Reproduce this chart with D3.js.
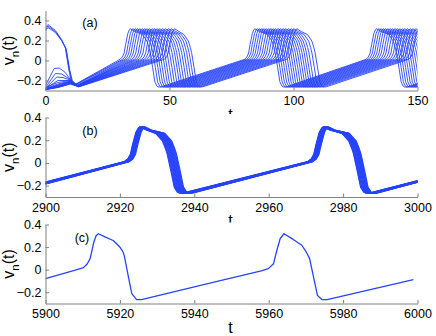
<!DOCTYPE html>
<html>
<head>
<meta charset="utf-8">
<script src="https://cdn.jsdelivr.net/npm/d3@7"></script>
<style>
  body { margin: 0; background: #fff; }
  text { font-family: Arial, "Liberation Sans", Helvetica, sans-serif; }
</style>
</head>
<body>
<div id="chart"></div>
<script>
// spike shape: upstroke relative to the peak time,
// fall relative to the time the downstroke crosses v = 0
var UP_SHAPE = [[-4.1, 0.012], [-3.2, 0.035], [-2.5, 0.075], [-1.9, 0.16], [-1.0, 0.27], [-0.4, 0.305], [0, 0.318]];
var DOWN_SHAPE = [[-3.7, 0.26], [-1.9, 0.195], [-1.1, 0.13], [-0.6, 0.08], [0.4, -0.07], [1.3, -0.213], [2.1, -0.255], [2.6, -0.265], [3.9, -0.263]];

// panel (a): start transients, then peak / downstroke times of each cell
var A_START = [
  [[0, 0.33], [1, 0.36], [4, 0.3], [6.5, 0.21], [8, 0.13], [9.3, -0.08], [10.3, -0.2], [11.5, -0.245]],
  [[0, 0.31], [1, 0.345], [4, 0.29], [6.5, 0.2], [8.2, 0.12], [9.6, -0.09], [10.6, -0.2], [11.8, -0.245]],
  [[0, 0.3], [1, 0.33], [4, 0.28], [6.8, 0.19], [8.4, 0.11], [9.8, -0.1], [10.8, -0.2], [12.0, -0.245]],
  [[0, -0.25], [3.5, -0.08], [5.5, -0.075], [8, -0.12], [10, -0.19], [12.5, -0.25]],
  [[0, -0.27], [4, -0.13], [6.5, -0.135], [10, -0.19], [12.8, -0.25]],
  [[0, -0.28], [4.5, -0.165], [7, -0.17], [10, -0.195], [13, -0.25]],
  [[0, -0.28], [5, -0.2], [10, -0.2], [13, -0.25]],
  [[0, -0.27], [5, -0.22], [10, -0.2], [12.8, -0.25]],
  [[0, -0.28], [5, -0.235], [10, -0.205], [13, -0.252]],
  [[0, -0.285], [5, -0.245], [10, -0.21], [13, -0.255]],
  [[0, -0.285], [5, -0.25], [10, -0.212], [13, -0.255]],
  [[0, -0.29], [5, -0.25], [10, -0.215], [13, -0.256]],
  [[0, -0.285], [5, -0.255], [10, -0.218], [13, -0.257]],
  [[0, -0.29], [5, -0.26], [10, -0.22], [13.2, -0.258]],
  [[0, -0.29], [5, -0.262], [10, -0.224], [13.2, -0.26]],
  [[0, -0.29], [5, -0.265], [10, -0.228], [13.4, -0.26]],
  [[0, -0.29], [5, -0.268], [10, -0.232], [13.4, -0.262]],
  [[0, -0.29], [5, -0.27], [10, -0.236], [13.5, -0.263]]
];
var A_PEAK1 = [34.2, 35.2, 36.1, 37.0, 37.9, 38.9, 39.9, 40.8, 41.8, 42.9, 43.9, 44.9, 46.0, 47.1, 48.3, 49.5, 50.7, 52.0];
var A_DOWN1 = [42.8, 43.9, 44.9, 45.8, 46.7, 47.7, 48.6, 49.6, 50.6, 51.6, 52.6, 53.5, 54.5, 55.5, 56.5, 57.5, 58.5, 59.5];
var A_PEAK2 = [84.4, 85.3, 86.2, 87.1, 88.0, 88.9, 89.9, 90.8, 91.7, 92.7, 93.7, 94.7, 95.7, 96.8, 97.9, 99.0, 100.1, 101.3];
var A_DOWN2 = [93.2, 94.1, 95.0, 95.9, 96.8, 97.7, 98.6, 99.5, 100.4, 101.3, 102.2, 103.1, 104.0, 104.9, 105.8, 106.8, 108.0, 109.3];
var A_PEAK3 = [133.4, 134.3, 135.2, 136.1, 137.0, 137.9, 138.9, 139.8, 140.8, 141.8, 142.8, 143.8, 144.8, 145.9, 147.0, 148.1, 149.3, 150.5];
var A_DOWN3 = [142.1, 143.0, 143.9, 144.8, 145.7, 146.6, 147.5, 148.4, 149.3, 150.2, 151.1, 152.0, 152.9, 153.8, 154.7, 155.7, 156.8, 158.0];
var A_PEAK4 = [182.4, 183.2, 184.0, 184.9, 185.7, 186.6, 187.5, 188.3, 189.2, 190.1, 191.0, 191.9, 192.8, 193.7, 194.6, 195.6, 196.7, 197.8];

// panel (b): nearly synchronised cells
var B_DOWN0 = [2885.0, 2885.2, 2885.4, 2885.6, 2885.7, 2885.9, 2886.1, 2886.3, 2886.5, 2886.6, 2886.8, 2887.0, 2887.2, 2887.4];
var B_PEAK1 = [2925.3, 2925.4, 2925.5, 2925.7, 2925.8, 2925.8, 2925.9, 2926.0, 2926.1, 2926.2, 2926.3, 2926.4, 2926.5, 2926.7];
var B_DOWN1 = [2933.3, 2933.5, 2933.7, 2933.9, 2934.1, 2934.3, 2934.5, 2934.6, 2934.8, 2935.0, 2935.2, 2935.4, 2935.6, 2935.8];
var B_PEAK2 = [2974.6, 2974.7, 2974.8, 2975.0, 2975.1, 2975.2, 2975.3, 2975.4, 2975.5, 2975.6, 2975.7, 2975.8, 2975.9, 2976.0];
var B_DOWN2 = [2983.4, 2983.5, 2983.7, 2983.9, 2984.0, 2984.2, 2984.4, 2984.5, 2984.7, 2984.8, 2985.0, 2985.1, 2985.2, 2985.4];
var B_PEAK3 = [3024.0, 3024.1, 3024.2, 3024.3, 3024.4, 3024.5, 3024.6, 3024.7, 3024.8, 3024.9, 3025.0, 3025.1, 3025.2, 3025.3];

// panel (c): one cell
var C_T = [5900, 5908, 5910.2, 5911.2, 5912, 5913, 5913.6, 5914.2, 5916, 5918.2, 5920, 5920.8, 5921.2, 5922.3, 5923.2, 5924.5, 5925.8,
           5946.7, 5958, 5959.9, 5961.3, 5962.2, 5963.1, 5964.1, 5966.5, 5968.9, 5970.2, 5971, 5973.1, 5974.3, 5975.7, 5998.9];
var C_V = [-0.08, -0.005, 0.018, 0.05, 0.098, 0.245, 0.3, 0.318, 0.29, 0.258, 0.2, 0.16, 0.12, -0.066, -0.213, -0.265, -0.265,
           -0.10, -0.01, 0.009, 0.053, 0.172, 0.276, 0.318, 0.27, 0.216, 0.15, 0.098, -0.228, -0.265, -0.265, -0.089];

var A_XTICKS = [0, 50, 100, 150];
var B_XTICKS = [2900, 2920, 2940, 2960, 2980, 3000];
var C_XTICKS = [5900, 5920, 5940, 5960, 5980, 6000];
var Y_TICKS = [-0.2, 0, 0.2, 0.4];

var blue = "#2643ff", grey = "#808080";
var W = 436, H = 336;
var left = 45.5, right = 417.5;

var svg = d3.select("#chart").append("svg")
    .attr("width", W)
    .attr("height", H);
var defs = svg.append("defs");

function upPts(p) {
  return UP_SHAPE.map(function(s) { return [p + s[0], s[1]]; });
}
function downPts(p, d) {
  var out = [];
  if (p != null && d - 3.7 > p + 2.2) out.push([p + 1.8, 0.29]);
  return out.concat(DOWN_SHAPE.map(function(s) { return [d + s[0], s[1]]; }));
}
function buildCurve(start, events) {
  var pts = start.slice();
  events.forEach(function(e) {
    pts = pts.concat(upPts(e[0]));
    if (e[1] != null) pts = pts.concat(downPts(e[0], e[1]));
  });
  return pts;
}

function panel(opt) {
  var x = d3.scaleLinear().domain(opt.xdom).range([left, right]);
  var y = d3.scaleLinear().domain(opt.ydom).range([opt.bottom, opt.top]);
  var id = "clip-" + opt.key;

  defs.append("clipPath").attr("id", id).append("rect")
      .attr("x", left).attr("y", opt.top)
      .attr("width", right - left).attr("height", opt.bottom - opt.top);

  var line = d3.line()
      .x(function(d) { return x(d[0]); })
      .y(function(d) { return y(d[1]); });

  var g = svg.append("g");

  g.append("g")
      .attr("clip-path", "url(#" + id + ")")
      .selectAll("path").data(opt.curves).enter().append("path")
      .attr("d", line)
      .attr("fill", "none")
      .attr("stroke", blue)
      .attr("stroke-width", opt.lw)
      .attr("stroke-linejoin", "round");

  var xAxis = d3.axisBottom(x).tickValues(opt.xticks).tickSizeInner(-3.5).tickSizeOuter(0).tickPadding(6)
      .tickFormat(d3.format("d"));
  var yAxis = d3.axisLeft(y).tickValues(Y_TICKS).tickSizeInner(-3.5).tickSizeOuter(0).tickPadding(4)
      .tickFormat(function(d) { return d === 0 ? "0" : d3.format(".1f")(d); });

  var gx = g.append("g").attr("transform", "translate(0," + opt.bottom + ")").call(xAxis);
  var gy = g.append("g").attr("transform", "translate(" + left + ",0)").call(yAxis);
  [gx, gy].forEach(function(a) {
    a.select(".domain").attr("stroke", grey);
    a.selectAll(".tick line").attr("stroke", grey);
    a.selectAll(".tick text").attr("fill", "#000").style("font-size", "12.5px");
  });

  var yl = g.append("text")
      .attr("transform", "translate(14," + ((opt.top + opt.bottom) / 2) + ") rotate(-90)")
      .attr("text-anchor", "middle")
      .style("font-size", "16px");
  yl.append("tspan").text("v");
  yl.append("tspan").attr("dy", 5).style("font-size", "11.5px").text("n");
  yl.append("tspan").attr("dy", -5).text("(t)");

  g.append("text")
      .attr("x", (left + right) / 2 - 1)
      .attr("y", opt.bottom + 29)
      .attr("text-anchor", "middle")
      .style("font-size", "16px")
      .text("t");

  g.append("text")
      .attr("x", opt.labelX).attr("y", opt.labelY)
      .attr("text-anchor", "middle")
      .style("font-size", "12.5px")
      .text(opt.name);

  if (opt.cut != null) {
    g.append("rect")
        .attr("x", left).attr("y", opt.cut)
        .attr("width", right - left).attr("height", 10)
        .attr("fill", "#fff");
  }
}

var curvesA = A_START.map(function(s, i) {
  return buildCurve(s, [[A_PEAK1[i], A_DOWN1[i]], [A_PEAK2[i], A_DOWN2[i]], [A_PEAK3[i], A_DOWN3[i]], [A_PEAK4[i], null]]);
});
var curvesB = B_DOWN0.map(function(d0, i) {
  return buildCurve(downPts(null, d0), [[B_PEAK1[i], B_DOWN1[i]], [B_PEAK2[i], B_DOWN2[i]], [B_PEAK3[i], null]]);
});
var curvesC = [C_T.map(function(t, i) { return [t, C_V[i]]; })];

panel({ key: "a", name: "(a)", xdom: [0, 150], ydom: [-0.3, 0.5], top: 10.5, bottom: 90.5, xticks: A_XTICKS,
        curves: curvesA, lw: 0.9, labelX: 90, labelY: 27, cut: 114 });
panel({ key: "b", name: "(b)", xdom: [2900, 3000], ydom: [-0.3, 0.4], top: 117.5, bottom: 197, xticks: B_XTICKS,
        curves: curvesB, lw: 1.2, labelX: 90, labelY: 134.5, cut: 222.5 });
panel({ key: "c", name: "(c)", xdom: [5900, 6000], ydom: [-0.3, 0.4], top: 224.5, bottom: 303.5, xticks: C_XTICKS,
        curves: curvesC, lw: 1.3, labelX: 82, labelY: 241.5, cut: null });
</script>
</body>
</html>
